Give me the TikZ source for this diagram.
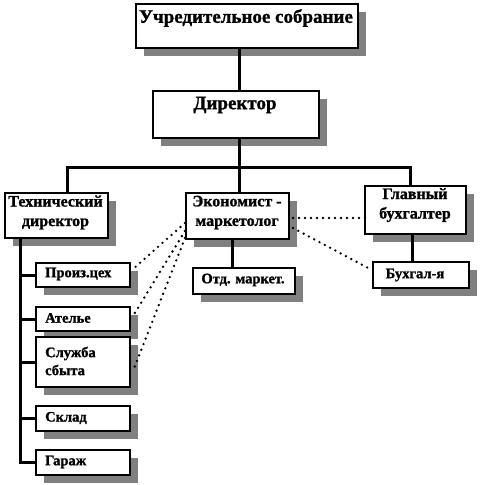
\documentclass[tikz,border=0pt]{standalone}
\usepackage{fontspec}
\setmainfont{Liberation Serif}
\newfontfamily\heavy{Liberation Serif Bold}[FakeBold=1.2]
\usetikzlibrary{shadows,calc}
\tikzset{
  box/.style={draw=black, line width=2pt, fill=white, anchor=north west, inner sep=0pt,
    general shadow={fill=black!50, shadow xshift=8pt, shadow yshift=-8pt}},
  conn/.style={line width=3pt, line cap=rect},
  dotline/.style={line width=2.6pt, line cap=round, dash pattern=on 0pt off 6pt},
  big/.style={font=\fontsize{19}{21}\selectfont\heavy, inner sep=0pt},
  mid/.style={font=\fontsize{16}{19.5}\selectfont\heavy, inner sep=0pt, align=center},
  sml/.style={font=\fontsize{14.5}{18}\selectfont\heavy, inner sep=0pt, align=left},
}
\begin{document}
\begin{tikzpicture}[x=1pt,y=-1pt]
\useasboundingbox (0,0) rectangle (480,485);
% coordinates for connector routes
\coordinate (bus) at (239.5,167);
\coordinate (busL) at (67,167);
\coordinate (busR) at (410,167);
\coordinate (spine) at (20,0);
\coordinate (otdx) at (232,0);
\coordinate (buhx) at (412,0);
% boxes
\node[box, minimum width=222pt, minimum height=44pt] (top) at (135,3) {};
\node[box, minimum width=166pt, minimum height=47pt] (dir) at (152,90) {};
\node[box, minimum width=103pt, minimum height=45pt] (tech) at (4,192) {};
\node[box, minimum width=103pt, minimum height=46pt] (econ) at (185,192) {};
\node[box, minimum width=101pt, minimum height=48pt] (chief) at (364,185) {};
\node[box, minimum width=102pt, minimum height=26pt] (otd) at (192,267) {};
\node[box, minimum width=96pt, minimum height=26pt] (buh) at (372,261) {};
\node[box, minimum width=94pt, minimum height=24pt] (p1) at (35,262) {};
\node[box, minimum width=94pt, minimum height=24pt] (p2) at (35,306) {};
\node[box, minimum width=94pt, minimum height=50pt] (p3) at (35,336) {};
\node[box, minimum width=94pt, minimum height=25pt] (p4) at (35,405) {};
\node[box, minimum width=94pt, minimum height=25pt] (p5) at (35,449) {};
% solid connectors
\draw[conn] (top.south -| bus) -- (dir.north -| bus);
\draw[conn] (dir.south -| bus) -- (bus);
\draw[conn] (tech.north -| busL) -- (busL) -- (busR) -- (chief.north -| busR);
\draw[conn] (bus) -- (econ.north -| bus);
\draw[conn] (econ.south -| otdx) -- (otd.north -| otdx);
\draw[conn] (chief.south -| buhx) -- (buh.north -| buhx);
\draw[conn] (tech.south -| spine) |- (p5.west);
\draw[conn] (p1.west -| spine) -- (p1.west);
\draw[conn] (p2.west -| spine) -- (p2.west);
\draw[conn] (p3.west -| spine) -- (p3.west);
\draw[conn] (p4.west -| spine) -- (p4.west);
% dotted connectors
\draw[dotline] ([yshift=-7pt]econ.west) -- ([yshift=6pt,xshift=2pt]p1.east);
\draw[dotline] ([yshift=-15pt]econ.west) -- ([yshift=3pt,xshift=2pt]p2.east);
\draw[dotline] ([yshift=-22pt]econ.west) -- ([yshift=-9pt,xshift=2pt]p3.east);
\draw[dotline] ([yshift=-2pt,xshift=3pt]econ.east) -- ([yshift=-2pt,xshift=3pt]econ.east -| chief.west);
\draw[dotline] ([yshift=-12pt,xshift=3pt]econ.east) -- ([yshift=6pt,xshift=-2pt]buh.west);
% texts
\node[big] (ttop) at (246,18) {Учредительное собрание};
\node[big] (tdir) at (235,105) {Директор};
\node[mid] (ttech) at (55.5,212.5) {Технический\\директор};
\node[mid] (tecon) at (237,212.5) {Экономист -\\маркетолог};
\node[mid] (tchief) at (415,205) {Главный\\бухгалтер};
\node[sml] (totd) at (243,280) {Отд. маркет.};
\node[sml] (tbuh) at (415,275) {Бухгал-я};
\node[sml, anchor=west] (tp1) at (45,274) {Произ.цех};
\node[sml, anchor=west] (tp2) at (45,318) {Ателье};
\node[sml, anchor=west] (tp3) at (45,361) {Служба\\сбыта};
\node[sml, anchor=west] (tp4) at (45,418) {Склад};
\node[sml, anchor=west] (tp5) at (45,462) {Гараж};
\end{tikzpicture}
\end{document}
